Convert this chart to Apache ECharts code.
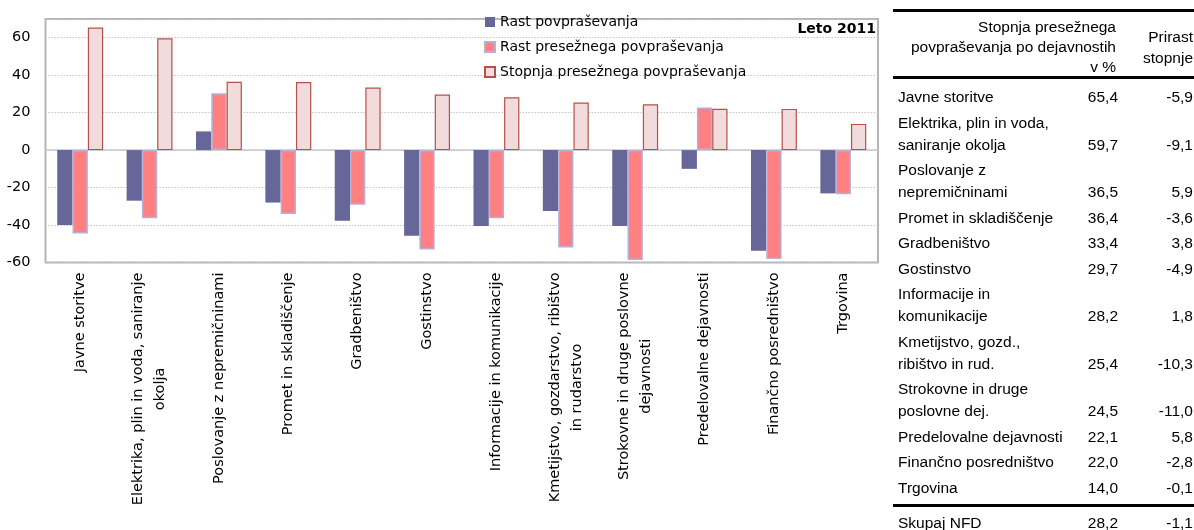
<!DOCTYPE html>
<html>
<head>
<meta charset="utf-8">
<script src="https://cdn.jsdelivr.net/npm/echarts@6/dist/echarts.min.js"></script>
<style>
  html, body { margin: 0; padding: 0; background: #fff; }
  #chart { position: absolute; left: 0; top: 0; width: 890px; height: 530px; }
  #table { position: absolute; left: 0; top: 0; width: 1194px; height: 530px; overflow: hidden;
           font-family: "Liberation Sans", Arial, sans-serif; font-size: 15.5px; color: #000; pointer-events: none; }
  .t { position: absolute; white-space: nowrap; line-height: 20px; height: 20px; }
  .rule { position: absolute; left: 893px; width: 301px; background: #000; }
</style>
</head>
<body>
<div id="chart"></div>
<div id="table"></div>
<script>
// Activities (chart categories)
const categories = [
  'Javne storitve',
  'Elektrika, plin in voda, saniranje\nokolja',
  'Poslovanje z nepremičninami',
  'Promet in skladiščenje',
  'Gradbeništvo',
  'Gostinstvo',
  'Informacije in komunikacije',
  'Kmetijstvo, gozdarstvo, ribištvo\nin rudarstvo',
  'Strokovne in druge poslovne\ndejavnosti',
  'Predelovalne dejavnosti',
  'Finančno posredništvo',
  'Trgovina'
];

// Series values (%)
const rastPovprasevanja = [-40.0, -27.0, 10.0, -28.0, -37.7, -45.7, -40.5, -32.5, -40.5, -10.0, -53.7, -23.1];
const rastPreseznega    = [-44.5, -36.4, 30.3, -34.1, -29.2, -53.0, -36.4, -52.0, -58.7, 22.8, -58.1, -23.5];
const stopnjaPreseznega = [65.4, 59.7, 36.5, 36.4, 33.4, 29.7, 28.2, 25.4, 24.5, 22.1, 22.0, 14.0];

const seriesNames = ['Rast povpraševanja', 'Rast presežnega povpraševanja', 'Stopnja presežnega povpraševanja'];

// Value axis ticks
const yMin = -60, yMax = 70, yStep = 20;

// Side table
const tableHeaderRate = ['Stopnja presežnega', 'povpraševanja po dejavnostih', 'v %'];
const tableHeaderChange = ['Prirast', 'stopnje'];
const tableLabels = [
  ['Javne storitve'],
  ['Elektrika, plin in voda,', 'saniranje okolja'],
  ['Poslovanje z', 'nepremičninami'],
  ['Promet in skladiščenje'],
  ['Gradbeništvo'],
  ['Gostinstvo'],
  ['Informacije in', 'komunikacije'],
  ['Kmetijstvo, gozd.,', 'ribištvo in rud.'],
  ['Strokovne in druge', 'poslovne dej.'],
  ['Predelovalne dejavnosti'],
  ['Finančno posredništvo'],
  ['Trgovina']
];
const prirastStopnje = [-5.9, -9.1, 5.9, -3.6, 3.8, -4.9, 1.8, -10.3, -11.0, 5.8, -2.8, -0.1];
const totalLabel = 'Skupaj NFD';
const totalStopnja = 28.2;
const totalPrirast = -1.1;

// ---------- chart ----------
const FONT = '"DejaVu Sans", Verdana, sans-serif';
const chart = echarts.init(document.getElementById('chart'));

chart.setOption({
  animation: false,
  grid: {
    left: 45.5, top: 19, width: 832.5, height: 243.5,
    show: true, borderColor: '#B4B4B4', borderWidth: 2, backgroundColor: 'transparent'
  },
  legend: {
    data: seriesNames,
    orient: 'vertical',
    left: 484, top: 9.5, padding: 0,
    icon: 'rect',
    itemGap: 0, itemWidth: 10, itemHeight: 10,
    textStyle: { fontFamily: FONT, fontSize: 14, color: '#000', lineHeight: 25 }
  },
  graphic: [{
    type: 'text', x: 876, y: 29,
    style: {
      text: 'Leto 2011', font: 'bold 14px "DejaVu Sans", Verdana, sans-serif', fill: '#000',
      align: 'right', verticalAlign: 'middle', textAlign: 'right', textVerticalAlign: 'middle'
    }
  }],
  xAxis: [
    {
      // zero line
      type: 'category', data: categories,
      axisLine: { onZero: true, lineStyle: { color: '#C8C8C8', width: 1.5 } },
      axisTick: { show: false }, axisLabel: { show: false }, splitLine: { show: false }
    },
    {
      // category labels along the bottom
      type: 'category', data: categories, position: 'bottom',
      axisLine: { show: false, onZero: false }, axisTick: { show: false }, splitLine: { show: false },
      axisLabel: {
        interval: 0, rotate: 90, margin: 10,
        formatter: v => v.split('\n').map(s => '{c|' + s + '}').join('\n'),
        rich: { c: { align: 'center', fontFamily: FONT, fontSize: 14.5, lineHeight: 22, color: '#000' } }
      }
    }
  ],
  yAxis: {
    type: 'value', min: yMin, max: yMax, interval: yStep,
    axisLine: { show: false }, axisTick: { show: false },
    axisLabel: {
      fontFamily: FONT, fontSize: 14.5, color: '#000', margin: 15,
      formatter: v => (v === yMax ? '' : String(v))
    },
    splitLine: { lineStyle: { color: '#C4C4C4', type: [1.5, 1.5], width: 1 } }
  },
  series: [
    {
      name: seriesNames[0], type: 'bar', data: rastPovprasevanja, xAxisIndex: 0,
      barWidth: 15.3, barGap: '0%',
      itemStyle: { color: '#666699' }
    },
    {
      name: seriesNames[1], type: 'bar', data: rastPreseznega, xAxisIndex: 0,
      barWidth: 15.3, barGap: '0%',
      itemStyle: { color: '#FF8080', borderColor: '#B9AED6', borderWidth: 1.5 }
    },
    {
      name: seriesNames[2], type: 'bar', data: stopnjaPreseznega, xAxisIndex: 0,
      barWidth: 15.3, barGap: '0%',
      itemStyle: { color: '#F2DCDB', borderColor: '#B5504D', borderWidth: 1.2 }
    }
  ]
});

// ---------- table ----------
const tbl = document.getElementById('table');
const PAGE_W = 1194;
const LABEL_X = 898, RATE_RIGHT = 1118, CHANGE_RIGHT = 1193, HEAD_RATE_RIGHT = 1116;
const fmt = v => v.toFixed(1).replace('.', ',');

function put(text, x, cy, align) {
  const d = document.createElement('div');
  d.className = 't';
  d.textContent = text;
  d.style.top = (cy - 10) + 'px';
  if (align === 'right') { d.style.right = (PAGE_W - x) + 'px'; d.style.textAlign = 'right'; }
  else { d.style.left = x + 'px'; }
  tbl.appendChild(d);
}
function rule(y, h) {
  const d = document.createElement('div');
  d.className = 'rule';
  d.style.top = y + 'px';
  d.style.height = h + 'px';
  tbl.appendChild(d);
}

rule(9, 2.5);
tableHeaderRate.forEach((s, i) => put(s, HEAD_RATE_RIGHT, 27 + i * 20, 'right'));
tableHeaderChange.forEach((s, i) => put(s, CHANGE_RIGHT, 37 + i * 21, 'right'));
rule(76, 3);

let cy = 97;
const LINE_STEP = 22, ROW_STEP = 25.5;
tableLabels.forEach((lines, r) => {
  if (r > 0) cy += ROW_STEP;
  lines.forEach((s, i) => {
    if (i > 0) cy += LINE_STEP;
    put(s, LABEL_X, cy, 'left');
  });
  put(fmt(stopnjaPreseznega[r]), RATE_RIGHT, cy, 'right');
  put(fmt(prirastStopnje[r]), CHANGE_RIGHT, cy, 'right');
});

rule(503.5, 3);
put(totalLabel, LABEL_X, 523, 'left');
put(fmt(totalStopnja), RATE_RIGHT, 523, 'right');
put(fmt(totalPrirast), CHANGE_RIGHT, 523, 'right');
</script>
</body>
</html>
